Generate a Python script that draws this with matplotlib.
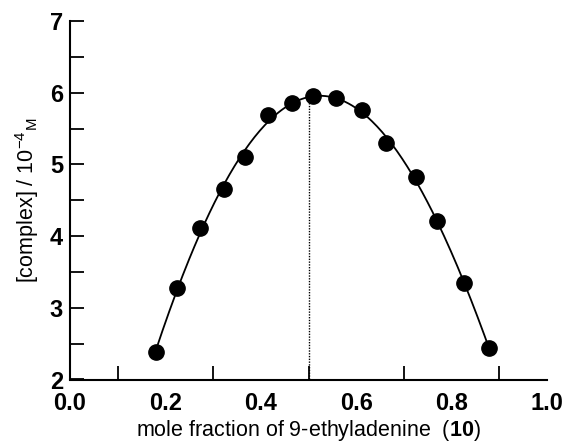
import numpy as np
import matplotlib
matplotlib.use("Agg")
from matplotlib import pyplot as plt

# Job plot data
mole_frac = [0.180, 0.224, 0.273, 0.323, 0.366, 0.416, 0.465, 0.509,
             0.558, 0.613, 0.662, 0.725, 0.770, 0.825, 0.879]
complex_conc = [2.38, 3.27, 4.11, 4.66, 5.10, 5.69, 5.85, 5.95,
                5.92, 5.76, 5.30, 4.83, 4.21, 3.34, 2.44]
x_ticks = [0.0, 0.2, 0.4, 0.6, 0.8, 1.0]
y_ticks = [2, 3, 4, 5, 6, 7]
x_stoich = 0.5

plt.rcParams['font.family'] = ['Liberation Sans', 'DejaVu Sans']
plt.rcParams['mathtext.fontset'] = 'custom'
plt.rcParams['mathtext.rm'] = 'Liberation Sans'
plt.rcParams['mathtext.it'] = 'Liberation Sans'
plt.rcParams['mathtext.bf'] = 'Liberation Sans:bold'

fig = plt.figure(figsize=(5.69, 4.44), dpi=100)
ax = fig.add_axes([70/569, 1-379.5/444, 477/569, (379.5-21)/444])

# fitted curve through the points
coef = np.polyfit(mole_frac, complex_conc, 4)
xf = np.linspace(mole_frac[0], mole_frac[-1], 200)
ax.plot(xf, np.polyval(coef, xf), color='black', lw=1.3, zorder=2)
ax.plot(mole_frac, complex_conc, 'o', color='black', ms=11, zorder=3)

# dotted line at the maximum
ax.plot([x_stoich, x_stoich], [2, np.polyval(coef, x_stoich)],
        color='black', lw=1.0, ls=(0, (1, 1)), zorder=1)

ax.set_xlim(0, 1.0)
ax.set_ylim(2, 7)
ax.set_xticks(x_ticks)
ax.set_xticks(x_ticks[1:] + list(np.arange(0.1, 1.0, 0.2)), minor=True)
ax.set_yticks(y_ticks)
ax.set_yticks(np.arange(2.5, 7.0, 1.0), minor=True)
ax.set_xticklabels(['%.1f' % v for v in x_ticks], fontweight='bold')
ax.set_yticklabels([str(v) for v in y_ticks], fontweight='bold')
ax.tick_params(which='both', direction='in', length=10, width=1.3,
               labelsize=17, colors='black')
ax.tick_params(axis='x', which='both', pad=9)
ax.tick_params(axis='y', which='both', pad=5)
ax.tick_params(axis='x', which='major', bottom=False)

for s in ['top', 'right']:
    ax.spines[s].set_visible(False)
for s in ['left', 'bottom']:
    ax.spines[s].set_linewidth(1.5)

ax.set_xlabel(r'mole fraction of 9-ethyladenine  ($\mathbf{10}$)', fontsize=15.5, labelpad=2)
ax.set_ylabel(r'[complex] / 10$^{-4}$$_{\mathrm{M}}$', fontsize=15.5, labelpad=6)

fig.savefig('out.png', dpi=100)
